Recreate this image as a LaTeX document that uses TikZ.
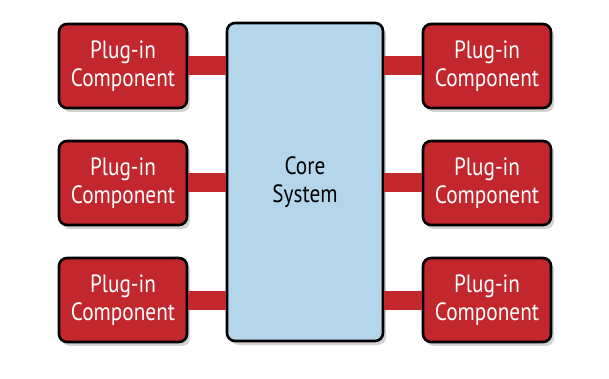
\documentclass[tikz,border=0pt]{standalone}
\usepackage{fontspec}
\newfontfamily\condfont[FakeStretch=0.85]{PT Sans}
\usetikzlibrary{shadows}
\definecolor{plugred}{HTML}{C1272D}
\definecolor{coreblue}{HTML}{B4D5EA}
\tikzset{
  x=1pt,y=-1pt,
  shad/.style={drop shadow={opacity=0.35,shadow xshift=3pt,shadow yshift=-4pt}},
  plug/.style={draw=black,line width=2.6pt,fill=plugred,rounded corners=8pt,
    minimum width=128pt,minimum height=84pt,text=white,align=center,
    font=\condfont\fontsize{25}{28}\selectfont,shad,inner sep=0pt},
  core/.style={draw=black,line width=2.6pt,fill=coreblue,rounded corners=8pt,
    minimum width=156pt,minimum height=318pt,text=black,align=center,
    font=\condfont\fontsize{25}{28}\selectfont,shad,inner sep=0pt},
  bar/.style={plugred,line width=19pt}
}
\begin{document}
\begin{tikzpicture}
\useasboundingbox (0,0) rectangle (609,379);
\node[core] (core) at (305,182) {Core\\System};
\node[plug] (l1) at (123,66) {Plug-in\\Component};
\node[plug] (l2) at (123,183) {Plug-in\\Component};
\node[plug] (l3) at (123,300) {Plug-in\\Component};
\node[plug] (r1) at (487,66) {Plug-in\\Component};
\node[plug] (r2) at (487,183) {Plug-in\\Component};
\node[plug] (r3) at (487,300) {Plug-in\\Component};
\foreach \n in {l1,l2,l3}{
  \draw[bar] (\n.east) -- (core.west |- \n.east);
}
\foreach \n in {r1,r2,r3}{
  \draw[bar] (\n.west) -- (core.east |- \n.west);
}
\end{tikzpicture}
\end{document}
